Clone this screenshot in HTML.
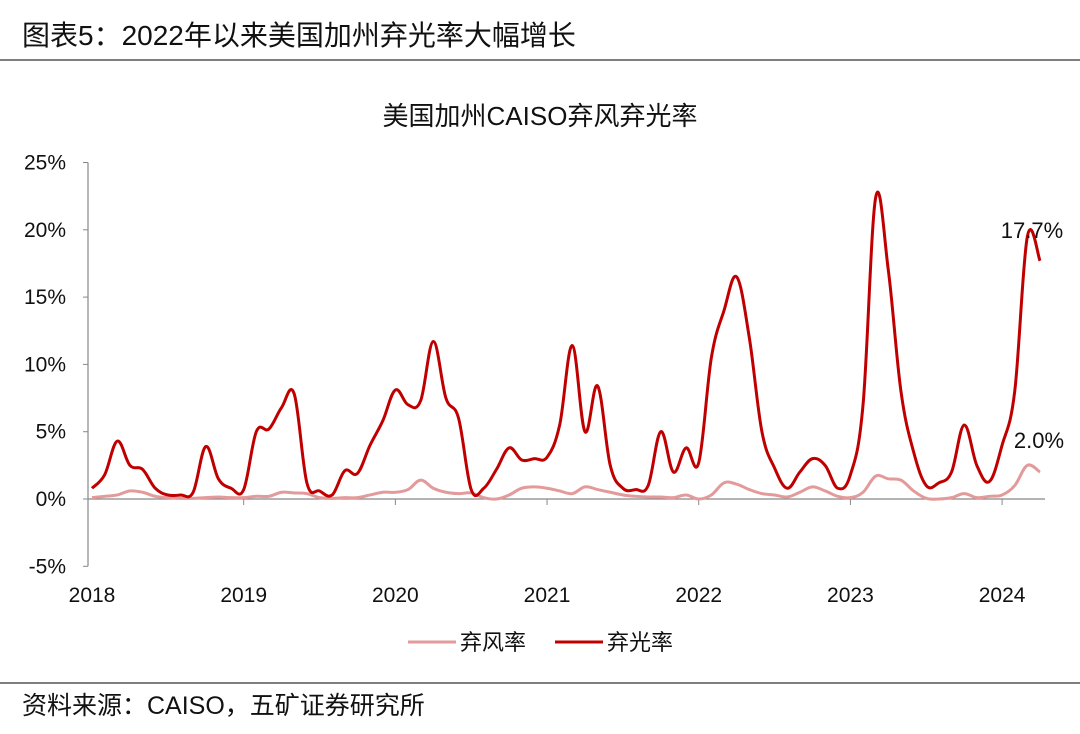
<!DOCTYPE html>
<html><head><meta charset="utf-8"><style>
body{margin:0;background:#fff;font-family:"Liberation Sans","Noto Sans CJK SC",sans-serif;}
#wrap{position:relative;width:1080px;height:734px;overflow:hidden;}
</style></head><body>
<div id="wrap">
<svg id="svg" width="1080" height="734" xmlns="http://www.w3.org/2000/svg">
<text x="22" y="45" font-size="28" fill="#111" font-family="Liberation Sans,Noto Sans CJK SC,sans-serif">图表5：2022年以来美国加州弃光率大幅增长</text>
<line x1="0" y1="60" x2="1080" y2="60" stroke="#555" stroke-width="1.5"/>
<text x="540" y="125" font-size="26" text-anchor="middle" fill="#111" font-family="Liberation Sans,Noto Sans CJK SC,sans-serif">美国加州CAISO弃风弃光率</text>
<g id="axes"></g>
<g id="series"></g>
<g>
<line x1="408" y1="642" x2="456" y2="642" stroke="#e39a9a" stroke-width="3"/>
<text x="460" y="650" font-size="22" fill="#111" font-family="Liberation Sans,Noto Sans CJK SC,sans-serif">弃风率</text>
<line x1="555" y1="642" x2="603" y2="642" stroke="#c00000" stroke-width="3"/>
<text x="607" y="650" font-size="22" fill="#111" font-family="Liberation Sans,Noto Sans CJK SC,sans-serif">弃光率</text>
</g>
<line x1="0" y1="683" x2="1080" y2="683" stroke="#555" stroke-width="1.5"/>
<text x="22" y="714" font-size="25" fill="#111" font-family="Liberation Sans,Noto Sans CJK SC,sans-serif">资料来源：CAISO，五矿证券研究所</text>
</svg>
</div>
<script>
const yTicks=[-5,0,5,10,15,20,25];
const yearLabels=["2018","2019","2020","2021","2022","2023","2024"];
const solar=[0.8,1.8,4.3,2.5,2.2,0.8,0.3,0.3,0.5,3.9,1.5,0.8,
0.7,5.0,5.2,6.8,7.8,1.2,0.6,0.3,2.1,1.9,4.0,5.8,
8.1,7.0,7.3,11.7,7.5,6.0,0.7,0.8,2.2,3.8,2.9,3.0,
3.1,5.5,11.4,5.0,8.4,2.5,0.8,0.7,1.0,5.0,2.0,3.8,
2.7,10.5,14.0,16.5,12.0,5.0,2.3,0.8,2.0,3.0,2.5,0.8,
1.8,7.0,22.4,17.0,8.0,3.5,1.0,1.2,2.0,5.5,2.5,1.3,
4.0,8.0,19.5,17.7];
const wind=[0.1,0.2,0.3,0.6,0.5,0.2,0.1,0.05,0.05,0.1,0.15,0.1,
0.1,0.2,0.2,0.5,0.45,0.4,0.1,0.05,0.1,0.1,0.3,0.5,
0.5,0.7,1.4,0.8,0.5,0.4,0.45,0.1,0.0,0.3,0.8,0.9,
0.8,0.6,0.4,0.9,0.7,0.5,0.3,0.2,0.15,0.15,0.1,0.3,
0.0,0.3,1.2,1.1,0.7,0.4,0.3,0.15,0.5,0.9,0.6,0.2,
0.1,0.5,1.7,1.5,1.4,0.6,0.05,0.0,0.1,0.4,0.1,0.2,
0.3,1.0,2.5,2.0];
const NS="http://www.w3.org/2000/svg";
const X0=92,MW=12.64,Y0=499,PPU=13.46;
const xs=i=>X0+i*MW;
const ys=v=>Y0-v*PPU;
function mk(t,a,p){const e=document.createElementNS(NS,t);for(const k in a)e.setAttribute(k,a[k]);p.appendChild(e);return e;}
const axes=document.getElementById('axes');
const yAxis=mk('line',{x1:88,y1:ys(25),x2:88,y2:ys(-5),stroke:'#888','stroke-width':1.2},axes);


yTicks.forEach(t=>{
 mk('line',{x1:83,y1:ys(t),x2:88,y2:ys(t),stroke:'#888'},axes);
 const tx=mk('text',{x:66,y:ys(t)+7,'font-size':21,'text-anchor':'end',fill:'#111','font-family':'Liberation Sans,sans-serif'},axes);
 tx.textContent=t+'%';
 
 
});
const xAxis=mk('line',{x1:88,y1:Y0,x2:1045,y2:Y0,stroke:'#888','stroke-width':1.2},axes);


yearLabels.forEach((l,k)=>{
 const x=xs(k*12);
 if(k>0) mk('line',{x1:x,y1:Y0,x2:x,y2:Y0+6,stroke:'#888'},axes);
 const tx=mk('text',{x:x,y:602,'font-size':21,'text-anchor':'middle',fill:'#111','font-family':'Liberation Sans,sans-serif'},axes);
 tx.textContent=l;
 
 
});
function path(vals){
 const p=vals.map((v,i)=>[xs(i),ys(v)]);
 let d='M'+p[0][0]+','+p[0][1];
 for(let i=0;i<p.length-1;i++){
  const a=p[i-1]||p[i],b=p[i],c=p[i+1],e=p[i+2]||c;
  const t=0.18;
  d+=' C'+(b[0]+(c[0]-a[0])*t)+','+(b[1]+(c[1]-a[1])*t)+' '+(c[0]-(e[0]-b[0])*t)+','+(c[1]-(e[1]-b[1])*t)+' '+c[0]+','+c[1];
 }
 return d;
}
const sg=document.getElementById('series');
const w=mk('path',{d:path(wind),fill:'none',stroke:'#e39a9a','stroke-width':3,'stroke-linejoin':'round'},sg);


const s=mk('path',{d:path(solar),fill:'none',stroke:'#c00000','stroke-width':3,'stroke-linejoin':'round'},sg);


const n=solar.length-1;
const l1=mk('text',{x:1032,y:ys(solar[n])-23,'font-size':22,'text-anchor':'middle',fill:'#111','font-family':'Liberation Sans,sans-serif'},sg);
l1.textContent=solar[n].toFixed(1)+'%';


const l2=mk('text',{x:1039,y:ys(wind[n])-24,'font-size':22,'text-anchor':'middle',fill:'#111','font-family':'Liberation Sans,sans-serif'},sg);
l2.textContent=wind[n].toFixed(1)+'%';


</script>
</body></html>
